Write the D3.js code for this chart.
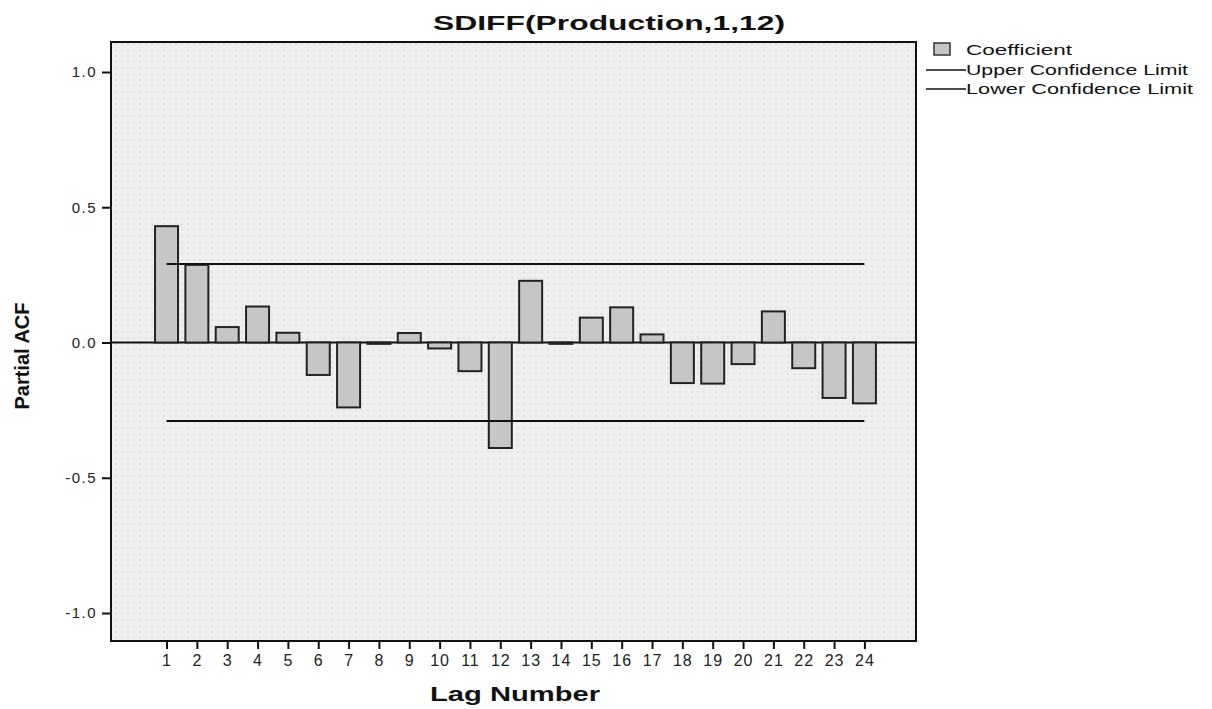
<!DOCTYPE html>
<html>
<head>
<meta charset="utf-8">
<script src="https://cdn.jsdelivr.net/npm/d3@7"></script>
<style>
body{margin:0;background:#fff;}
text{font-family:"Liberation Sans",Arial,sans-serif;}
</style>
</head>
<body>
<svg id="chart" width="1212" height="709"></svg>
<script>
const lags = [1,2,3,4,5,6,7,8,9,10,11,12,13,14,15,16,17,18,19,20,21,22,23,24];
const coefficient = [0.43,0.287,0.057,0.133,0.036,-0.12,-0.24,-0.005,0.035,-0.022,-0.106,-0.39,
                     0.228,-0.005,0.092,0.13,0.03,-0.15,-0.152,-0.08,0.115,-0.095,-0.205,-0.225];
const upperLimit = 0.29;
const lowerLimit = -0.29;
const yTicks = [-1.0,-0.5,0.0,0.5,1.0];
const title = "SDIFF(Production,1,12)";
const legendLabels = ["Coefficient","Upper Confidence Limit","Lower Confidence Limit"];

const svg = d3.select("#chart");
const L = 111, R = 916, T = 42, B = 641;

const x = d3.scaleLinear().domain([-0.83, 25.7]).range([L, R]);
const y = d3.scaleLinear().domain([-1, 1]).range([613, 72]);
const barW = 23;
const fmt = d => d3.format(".1f")(d).replace("\u2212", "-");

// plot background
svg.append("rect").attr("x", L).attr("y", T).attr("width", R - L).attr("height", B - T)
  .attr("fill", "#efefef");

// subtle dotted texture
const defs = svg.append("defs");
const pat = defs.append("pattern").attr("id","dots").attr("width",6).attr("height",6).attr("patternUnits","userSpaceOnUse");
pat.append("circle").attr("cx",2).attr("cy",2).attr("r",1.1).attr("fill","#d6d6d6");
svg.append("rect").attr("x", L).attr("y", T).attr("width", R - L).attr("height", B - T)
  .attr("fill", "url(#dots)").attr("opacity",0.7);

// zero line
svg.append("line").attr("x1", L).attr("x2", R).attr("y1", y(0)).attr("y2", y(0))
  .attr("stroke", "#111").attr("stroke-width", 2);

// bars
svg.append("g").selectAll("rect").data(lags).join("rect")
  .attr("x", (d) => x(d) - barW / 2)
  .attr("width", barW)
  .attr("y", (d, i) => y(Math.max(0, coefficient[i])))
  .attr("height", (d, i) => Math.max(1, Math.abs(y(coefficient[i]) - y(0))))
  .attr("fill", "#c6c6c6")
  .attr("stroke", "#222")
  .attr("stroke-width", 2);

// confidence limits
[upperLimit, lowerLimit].forEach(v => {
  svg.append("line").attr("x1", x(1)).attr("x2", x(24)).attr("y1", y(v)).attr("y2", y(v))
    .attr("stroke", "#111").attr("stroke-width", 2);
});

// frame
svg.append("rect").attr("x", L).attr("y", T).attr("width", R - L).attr("height", B - T)
  .attr("fill", "none").attr("stroke", "#111").attr("stroke-width", 2);

// y axis
const yAxis = d3.axisLeft(y).tickValues(yTicks).tickFormat(fmt).tickSize(9).tickPadding(5);
const gy = svg.append("g").attr("transform", `translate(${L},0)`).call(yAxis);
gy.select(".domain").remove();
gy.selectAll("line").attr("stroke", "#111").attr("stroke-width", 2);
gy.selectAll("text").attr("font-size", 15).attr("fill", "#222").attr("letter-spacing", 1.5)
  .style("font-family", '"Liberation Sans",Arial,sans-serif');

// x axis
const xAxis = d3.axisBottom(x).tickValues(lags).tickFormat(d3.format("d")).tickSize(8).tickPadding(6);
const gx = svg.append("g").attr("transform", `translate(0,${B})`).call(xAxis);
gx.select(".domain").remove();
gx.selectAll("line").attr("stroke", "#111").attr("stroke-width", 2);
gx.selectAll("text").attr("font-size", 16).attr("fill", "#222").attr("letter-spacing", 1)
  .style("font-family", '"Liberation Sans",Arial,sans-serif');

// title
svg.append("text").attr("x", 609).attr("y", 30).attr("text-anchor", "middle")
  .attr("font-size", 21).attr("font-weight", "bold").attr("fill", "#111")
  .attr("textLength", 352).attr("lengthAdjust", "spacingAndGlyphs").text(title);

// axis labels
svg.append("text").attr("x", 515).attr("y", 701).attr("text-anchor", "middle")
  .attr("font-size", 21).attr("font-weight", "bold").attr("fill", "#111")
  .attr("textLength", 170).attr("lengthAdjust", "spacingAndGlyphs").text("Lag Number");
svg.append("text").attr("transform", "translate(29,356) rotate(-90)").attr("text-anchor", "middle")
  .attr("font-size", 20).attr("font-weight", "bold").attr("fill", "#111").text("Partial ACF");

// legend
const lg = svg.append("g");
const legLen = [106, 222, 227];
lg.append("rect").attr("x", 934).attr("y", 43).attr("width", 16).attr("height", 12)
  .attr("fill", "#c6c6c6").attr("stroke", "#333").attr("stroke-width", 1.5);
lg.append("text").attr("x", 966).attr("y", 55).attr("font-size", 14).attr("fill", "#111")
  .attr("textLength", legLen[0]).attr("lengthAdjust", "spacingAndGlyphs").text(legendLabels[0]);
[70, 89].forEach((yy, i) => {
  lg.append("line").attr("x1", 926).attr("x2", 966).attr("y1", yy).attr("y2", yy)
    .attr("stroke", "#111").attr("stroke-width", 1.5);
  lg.append("text").attr("x", 966).attr("y", yy + 5).attr("font-size", 14).attr("fill", "#111")
    .attr("textLength", legLen[i + 1]).attr("lengthAdjust", "spacingAndGlyphs").text(legendLabels[i + 1]);
});
</script>
</body>
</html>
